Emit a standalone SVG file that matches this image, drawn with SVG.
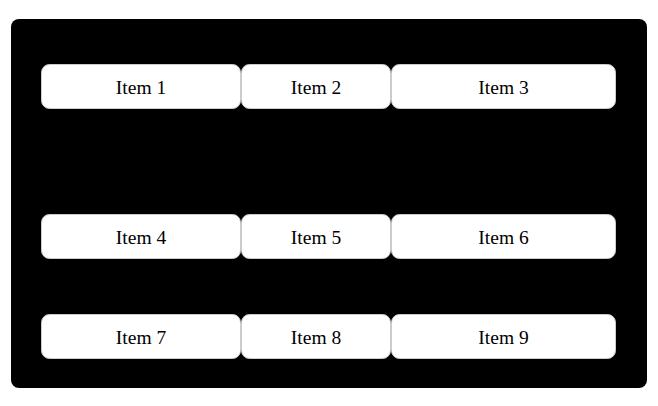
<svg xmlns="http://www.w3.org/2000/svg" width="658" height="406" viewBox="0 0 658 406">
<style>
.b{fill:#fff;stroke:#ccc;stroke-width:1}
.t{font-family:"Liberation Serif",serif;font-size:19.5px;fill:#000;text-anchor:middle;dominant-baseline:central}
</style>
<rect width="658" height="406" fill="#fff"/>
<rect x="11" y="19" width="636" height="369" rx="8" fill="#000"/>
<g id="item1"><rect class="b" x="41.5" y="64.5" width="199" height="44" rx="8"/><text class="t" x="141" y="87">Item 1</text></g>
<g id="item2"><rect class="b" x="241.5" y="64.5" width="149" height="44" rx="8"/><text class="t" x="316" y="87">Item 2</text></g>
<g id="item3"><rect class="b" x="391.5" y="64.5" width="224" height="44" rx="8"/><text class="t" x="503.5" y="87">Item 3</text></g>
<g id="item4"><rect class="b" x="41.5" y="214.5" width="199" height="44" rx="8"/><text class="t" x="141" y="237">Item 4</text></g>
<g id="item5"><rect class="b" x="241.5" y="214.5" width="149" height="44" rx="8"/><text class="t" x="316" y="237">Item 5</text></g>
<g id="item6"><rect class="b" x="391.5" y="214.5" width="224" height="44" rx="8"/><text class="t" x="503.5" y="237">Item 6</text></g>
<g id="item7"><rect class="b" x="41.5" y="314.5" width="199" height="44" rx="8"/><text class="t" x="141" y="337">Item 7</text></g>
<g id="item8"><rect class="b" x="241.5" y="314.5" width="149" height="44" rx="8"/><text class="t" x="316" y="337">Item 8</text></g>
<g id="item9"><rect class="b" x="391.5" y="314.5" width="224" height="44" rx="8"/><text class="t" x="503.5" y="337">Item 9</text></g>
<g id="connectors"></g>
</svg>
